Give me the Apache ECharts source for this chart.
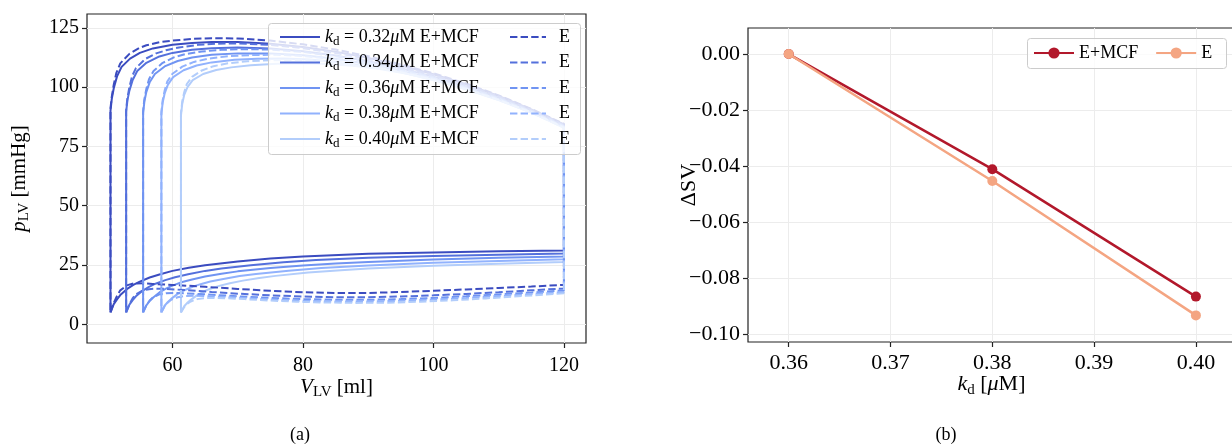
<!DOCTYPE html>
<html><head><meta charset="utf-8">
<script src="https://cdn.jsdelivr.net/npm/echarts@6/dist/echarts.min.js"></script>
<style>html,body{margin:0;padding:0;background:#fff}#c{width:1232px;height:444px}</style>
</head><body><div id="c"></div>
<script>
// ---------------- DATA ----------------
const kdValues = ['0.32', '0.34', '0.36', '0.38', '0.40'];

// PV loops, panel (a): filling curves (V, p) from V_min to 120 ml
const fillEMCF032 = [[50.5,5],[51,8.5],[51.5,10.5],[52,12.3],[53,14.8],[54,16.6],[55,18],[56.5,19.7],[58,21],[60,22.5],[62.5,23.8],[65,24.9],[70,26.5],[75,27.7],[80,28.6],[90,29.7],[100,30.3],[110,30.8],[120,31.1]];
const fillEMCF034 = [[52.9,5],[53.4,8.3],[53.9,10.2],[54.4,11.8],[55.4,14.1],[56.4,15.8],[57.4,17.1],[58.9,18.6],[60.4,19.8],[62.4,21.1],[65,22.5],[67.5,23.5],[72,24.9],[77,26.1],[82,27.1],[90,28],[100,28.8],[110,29.3],[120,29.8]];
const fillEMCF036 = [[55.5,5],[56,8],[56.5,9.8],[57,11.2],[58,13.4],[59,15],[60,16.3],[61.5,17.8],[63,18.9],[65,20.1],[67.5,21.3],[70,22.3],[75,23.7],[80,24.8],[85,25.6],[90,26.3],[100,27.3],[110,28],[120,28.6]];
const fillEMCF038 = [[58.3,5],[58.8,7.8],[59.3,9.4],[59.8,10.7],[60.8,12.8],[61.8,14.3],[62.8,15.5],[64.3,16.9],[65.8,18],[67.8,19.1],[70.3,20.3],[72.8,21.2],[77.8,22.6],[82.8,23.7],[90,24.8],[100,25.9],[110,26.7],[120,27.4]];
const fillEMCF040 = [[61.3,5],[61.8,7.6],[62.3,9.1],[62.8,10.3],[63.8,12.3],[64.8,13.8],[65.8,15],[67.3,16.3],[68.8,17.3],[70.8,18.4],[73.3,19.5],[75.8,20.4],[80.8,21.8],[85.8,22.8],[90,23.5],[100,24.7],[110,25.5],[120,26.2]];

const fillE032 = [[50.5,5],[51,9],[51.5,12],[52,14.3],[53,16.4],[54,17.2],[55.5,17.3],[57,17],[60,16.6],[65,15.8],[70,14.9],[75,14.1],[80,13.5],[85,13.2],[90,13.2],[95,13.6],[100,14.1],[105,14.7],[110,15.3],[115,15.9],[120,16.6]];
const fillE034 = [[52.9,5],[53.4,8.5],[53.9,11],[54.4,12.6],[55.4,14.2],[56.4,14.8],[57.5,15],[59,14.9],[62,14.4],[66,13.6],[70,12.9],[75,12.2],[80,11.7],[85,11.4],[90,11.4],[95,11.7],[100,12.2],[105,12.8],[110,13.5],[115,14.3],[120,15.1]];
const fillE036 = [[55.5,5],[56,8],[56.5,10],[57,11.3],[58,12.6],[59,13.1],[60.5,13.2],[62,13],[65,12.6],[70,11.8],[75,11.1],[80,10.6],[85,10.3],[90,10.3],[95,10.6],[100,11.1],[105,11.8],[110,12.6],[115,13.4],[120,14.3]];
const fillE038 = [[58.3,5],[58.8,7.6],[59.3,9.2],[59.8,10.3],[60.8,11.4],[61.8,11.9],[63.3,12],[65,11.9],[68,11.5],[72,10.9],[76,10.3],[80,9.9],[85,9.6],[90,9.6],[95,9.9],[100,10.4],[105,11.1],[110,11.9],[115,12.7],[120,13.6]];
const fillE040 = [[61.3,5],[61.8,7.3],[62.3,8.7],[62.8,9.6],[63.8,10.6],[64.8,11],[66.3,11.1],[68,11],[71,10.6],[75,10],[79,9.5],[83,9.2],[88,9],[93,9.1],[98,9.5],[103,10.1],[108,10.9],[113,11.8],[117,12.5],[120,13.1]];

// ejection curves (V, p) from 120 ml back to V_min
const ejectEMCF032 = [[120,84.3],[115,90.6],[110,96.3],[105,101.2],[100,105.4],[95,109.1],[90,112.3],[85,114.9],[80,116.9],[75,118.3],[70,119],[66,119],[63,118.6],[60,117.8],[57,116.3],[55,114.4],[53.5,112],[52.2,108.5],[51.5,104.5],[51,99.5],[50.7,95],[50.5,90]];
const ejectEMCF034 = [[120,83.8],[115,90],[110,95.5],[105,100.3],[100,104.4],[95,107.9],[90,110.9],[85,113.3],[80,115.1],[75,116.3],[70,116.7],[66,116.4],[63,115.7],[60,114.4],[58,112.9],[56,110.2],[54.6,106.8],[53.9,103],[53.4,98.5],[53.1,94.5],[52.9,89.5]];
const ejectEMCF036 = [[120,83.3],[115,89.4],[110,94.8],[105,99.5],[100,103.5],[95,106.9],[90,109.7],[85,111.9],[80,113.4],[75,114.2],[70,114.2],[66,113.6],[63,112.5],[60.8,111],[58.8,108.7],[57.3,105.5],[56.5,102],[56,98],[55.7,94],[55.5,89]];
const ejectEMCF038 = [[120,83],[115,89.2],[110,94.5],[105,99.1],[100,103],[95,106.2],[90,108.8],[85,110.7],[81,111.6],[77,112],[73,111.9],[69.5,111.5],[66,110.4],[63.7,109.1],[61.7,107.1],[60.1,104.2],[59.3,101],[58.8,97.3],[58.5,93.5],[58.3,88.5]];
const ejectEMCF040 = [[120,82.8],[115,89.3],[110,94.7],[105,99.3],[100,103.1],[96,105.6],[92,107.5],[88,108.9],[84,109.7],[80,110],[76,109.8],[72,109.2],[69,108.3],[66.7,107.2],[64.7,105.5],[63.1,102.9],[62.3,100],[61.8,96.7],[61.5,93],[61.3,88]];

const ejectE032 = [[120,84.5],[115,90.8],[110,96.5],[105,101.5],[100,105.8],[95,109.6],[90,113],[85,115.8],[80,118],[75,119.6],[70,120.5],[66,120.6],[63,120.3],[60,119.6],[58,118.9],[56,117.6],[55,116.6],[53.4,114],[52,110],[51.4,106],[51,101],[50.7,96],[50.5,91]];
const ejectE034 = [[120,84],[115,90.3],[110,95.9],[105,100.8],[100,105],[95,108.6],[90,111.8],[85,114.4],[80,116.4],[75,117.8],[70,118.4],[67,118.3],[64,117.8],[61,116.7],[59,115.5],[57.5,114.2],[55.8,111.8],[54.4,108],[53.8,104.5],[53.4,100],[53.1,95.5],[52.9,90.5]];
const ejectE036 = [[120,83.6],[115,89.8],[110,95.2],[105,100],[100,104.1],[95,107.6],[90,110.6],[85,113],[80,114.8],[75,115.8],[71,116],[67.5,115.7],[64.5,115],[62,113.9],[60.3,112.6],[58.5,110.2],[57.1,106.8],[56.4,103.3],[56,99.3],[55.7,95],[55.5,90]];
const ejectE038 = [[120,83.2],[115,89.4],[110,94.8],[105,99.5],[100,103.5],[95,106.9],[90,109.7],[85,111.8],[80,113.1],[76,113.6],[72,113.5],[68.5,113],[65.5,112],[63.3,110.6],[61.5,108.6],[60,105.6],[59.2,102.3],[58.8,98.5],[58.5,94.5],[58.3,89.5]];
const ejectE040 = [[120,82.9],[115,89.2],[110,94.5],[105,99.1],[100,103],[95,106.3],[91,108.4],[87,110],[83,111],[79,111.4],[75,111.3],[71.5,110.9],[68.5,110],[66.3,108.8],[64.5,107],[63,104.3],[62.2,101.3],[61.8,97.8],[61.5,94],[61.3,89]];

const pvXTicks = [60, 80, 100, 120];
const pvYTicks = [0, 25, 50, 75, 100, 125];

// panel (b)
const kdRight = [0.36, 0.38, 0.40];
const dSV_EMCF = [0, -0.0411, -0.0866];
const dSV_E = [0, -0.0453, -0.0933];
const dsvXTicks = [0.36, 0.37, 0.38, 0.39, 0.40];
const dsvYTicks = [-0.10, -0.08, -0.06, -0.04, -0.02, 0.00];

// ---------------- STYLE ----------------
const FONT = 'Liberation Serif';
const blues = ['#3b4cc0', '#5470dc', '#7094f2', '#91b2fd', '#b2cdfb'];
const dash = [7.4, 3.2];
const spine = '#222';
const gridCol = '#ececec';

const fillsEMCF = [fillEMCF032, fillEMCF034, fillEMCF036, fillEMCF038, fillEMCF040];
const ejectsEMCF = [ejectEMCF032, ejectEMCF034, ejectEMCF036, ejectEMCF038, ejectEMCF040];
const fillsE = [fillE032, fillE034, fillE036, fillE038, fillE040];
const ejectsE = [ejectE032, ejectE034, ejectE036, ejectE038, ejectE040];

function loop(fill, eject) { return fill.concat(eject, [fill[0]]); }

const series = [];
const namesEMCF = [], namesE = [];
kdValues.forEach((kd, i) => {
  const n = 'E+MCF ' + kd; namesEMCF.push(n);
  series.push({ name: n, type: 'line', xAxisIndex: 0, yAxisIndex: 0, data: loop(fillsEMCF[i], ejectsEMCF[i]),
    symbol: 'none', z: 2, color: blues[i], lineStyle: { color: blues[i], width: 2, type: 'solid' } });
});
kdValues.forEach((kd, i) => {
  const n = 'E ' + kd; namesE.push(n);
  series.push({ name: n, type: 'line', xAxisIndex: 0, yAxisIndex: 0, data: loop(fillsE[i], ejectsE[i]),
    symbol: 'none', z: 2, color: blues[i], lineStyle: { color: blues[i], width: 2, type: dash } });
});
series.push({ name: 'E+MCF', type: 'line', xAxisIndex: 1, yAxisIndex: 1, data: kdRight.map((k, i) => [k, dSV_EMCF[i]]),
  symbol: 'circle', symbolSize: 10, color: '#b2182b', lineStyle: { color: '#b2182b', width: 2.5 }, itemStyle: { color: '#b2182b' }, z: 2 });
series.push({ name: 'E', type: 'line', xAxisIndex: 1, yAxisIndex: 1, data: kdRight.map((k, i) => [k, dSV_E[i]]),
  symbol: 'circle', symbolSize: 10, color: '#f4a582', lineStyle: { color: '#f4a582', width: 2.5 }, itemStyle: { color: '#f4a582' }, z: 3 });

function richFor(size, lh) {
  return {
    i: { fontFamily: FONT, fontSize: size, fontStyle: 'italic', color: '#000', lineHeight: lh },
    r: { fontFamily: FONT, fontSize: size, color: '#000', lineHeight: lh },
    s: { fontFamily: FONT, fontSize: Math.round(size * 0.7), color: '#000', lineHeight: Math.round(size * 0.7), verticalAlign: 'bottom' }
  };
}

function valAxis(o) {
  return {
    type: 'value', gridIndex: o.grid, min: o.min, max: o.max, position: o.pos,
    axisLine: { show: false, onZero: false },
    axisTick: { show: true, length: 5, customValues: o.ticks, lineStyle: { color: spine, width: 1.2 } },
    axisLabel: { show: true, customValues: o.ticks, fontFamily: FONT, fontSize: o.fs, color: '#000', margin: o.margin, formatter: o.fmt },
    splitLine: { show: true, lineStyle: { color: gridCol, width: 1 } },
    name: o.name, nameLocation: 'middle', nameGap: o.nameGap, nameRotate: o.rot || 0, nameMoveOverlap: false,
    nameTextStyle: { fontFamily: FONT, fontSize: o.nfs, color: '#000', lineHeight: o.nlh, rich: richFor(o.nfs, o.nlh) }
  };
}

const fmtInt = v => String(Math.round(v));
const fmt2 = v => { const a = Math.abs(v).toFixed(2); return (v < -1e-9 ? '\u2212' : '') + a; };

const option = {
  animation: false,
  backgroundColor: '#ffffff',
  grid: [
    { left: 87, top: 14, width: 499, height: 329, show: true, borderColor: spine, borderWidth: 1.2, backgroundColor: 'transparent', containLabel: false, outerBoundsMode: 'none' },
    { left: 748, top: 28, right: -3, height: 314, show: true, borderColor: spine, borderWidth: 1.2, backgroundColor: 'transparent', containLabel: false, outerBoundsMode: 'none' }
  ],
  xAxis: [
    valAxis({ grid: 0, min: 46.9, max: 123.38, pos: 'bottom', ticks: pvXTicks, fs: 20, margin: 13, fmt: fmtInt,
      name: '{i|V}{s|LV}{r| [ml]}', nameGap: 31, nfs: 21, nlh: 26 }),
    valAxis({ grid: 1, min: 0.356, max: 0.40384, pos: 'bottom', ticks: dsvXTicks, fs: 22, margin: 10, fmt: fmt2,
      name: '{i|k}{s|d}{r| [}{i|\u03bc}{r|M]}', nameGap: 28, nfs: 22, nlh: 28 })
  ],
  yAxis: [
    valAxis({ grid: 0, min: -7.9, max: 130.8, pos: 'left', ticks: pvYTicks, fs: 20, margin: 8, fmt: fmtInt,
      name: '{i|p}{s|LV}{r| [mmHg]}', nameGap: 55, rot: 90, nfs: 21, nlh: 26 }),
    valAxis({ grid: 1, min: -0.1028, max: 0.0093, pos: 'left', ticks: dsvYTicks, fs: 22, margin: 8, fmt: fmt2,
      name: '\u0394SV', nameGap: 46, rot: 90, nfs: 22, nlh: 26 })
  ],
  legend: [
    { data: namesEMCF, orient: 'vertical', left: 279, top: 26, padding: 0, itemWidth: 40, itemHeight: 14, itemGap: 3.5,
      selectedMode: false, z: 5, itemStyle: { opacity: 0 },
      formatter: n => '{i|k}{s|d}{r| = ' + n.split(' ')[1] + '}{i|\u03bc}{r|M E+MCF}',
      textStyle: { fontFamily: FONT, fontSize: 18, color: '#000', lineHeight: 22, rich: richFor(18, 22) } },
    { data: namesE, orient: 'vertical', left: 509, top: 26, padding: 0, itemWidth: 36, itemHeight: 14, itemGap: 3.5,
      selectedMode: false, z: 5, itemStyle: { opacity: 0 },
      formatter: n => '{e|E}',
      textStyle: { fontFamily: FONT, fontSize: 18, color: '#000', lineHeight: 22,
        rich: { e: { fontFamily: FONT, fontSize: 18, color: '#000', lineHeight: 22, padding: [0, 0, 0, 8] } } } },
    { data: ['E+MCF', 'E'], orient: 'horizontal', left: 1033, top: 44, padding: 0, itemWidth: 40, itemHeight: 14, itemGap: 17,
      selectedMode: false, z: 5,
      textStyle: { fontFamily: FONT, fontSize: 18, color: '#000', lineHeight: 18 } }
  ],
  graphic: [
    { type: 'rect', z: 4, shape: { x: 268.5, y: 23.5, width: 312, height: 131, r: 3 },
      style: { fill: 'rgba(255,255,255,0.8)', stroke: '#cccccc', lineWidth: 1 } },
    { type: 'rect', z: 4, shape: { x: 1027.5, y: 38.5, width: 199, height: 30, r: 3 },
      style: { fill: 'rgba(255,255,255,0.8)', stroke: '#cccccc', lineWidth: 1 } },
    { type: 'text', z: 5, style: { text: '(a)', x: 300, y: 435, textAlign: 'center', textVerticalAlign: 'middle', font: '18px "Liberation Serif"', fill: '#000' } },
    { type: 'text', z: 5, style: { text: '(b)', x: 946, y: 435, textAlign: 'center', textVerticalAlign: 'middle', font: '18px "Liberation Serif"', fill: '#000' } }
  ],
  series: series
};

const chart = echarts.init(document.getElementById('c'), null, { renderer: 'canvas' });
chart.setOption(option);
</script>
</body></html>
